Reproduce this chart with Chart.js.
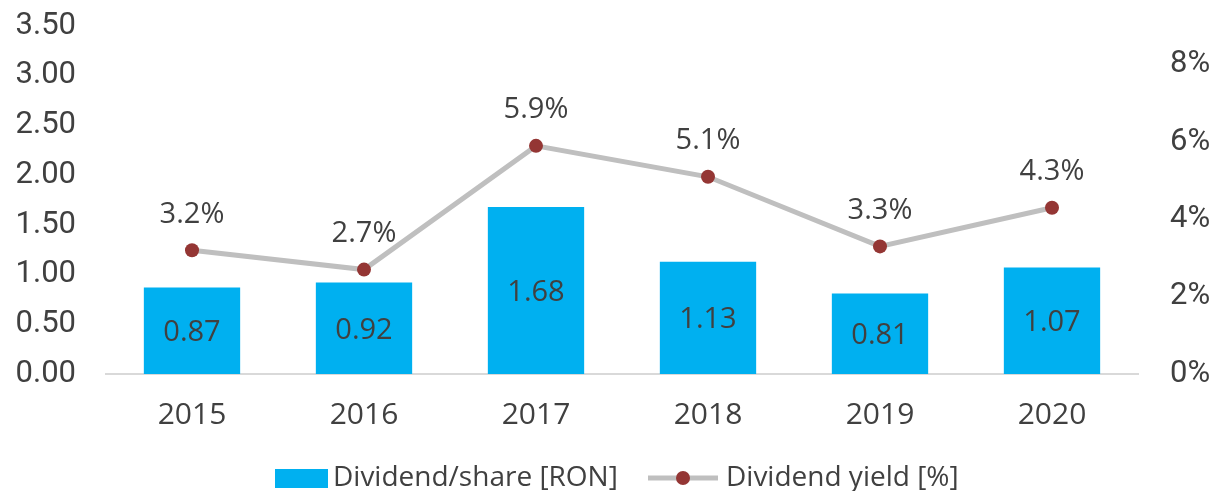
<!DOCTYPE html>
<html>
<head>
<meta charset="utf-8">
<script src="https://cdn.jsdelivr.net/npm/chart.js@4/dist/chart.umd.min.js"></script>
<style>
    html, body { margin: 0; padding: 0; background: #fff; }
    #wrap { width: 1219px; height: 491px; position: relative; }
</style>
</head>
<body>
<div id="wrap"><canvas id="divChart" width="1219" height="491"></canvas></div>
<script>
// Chart data
const years = ['2015', '2016', '2017', '2018', '2019', '2020'];
const dividendPerShare = [0.87, 0.92, 1.68, 1.13, 0.81, 1.07];
const dividendYield = [3.2, 2.7, 5.9, 5.1, 3.3, 4.3];
const leftTicks = [0, 0.5, 1, 1.5, 2, 2.5, 3, 3.5];
const rightTicks = [0, 2, 4, 6, 8];
const legendLabels = ['Dividend/share [RON]', 'Dividend yield [%]'];

const textColor = '#404040';
const barColor = '#00B0F0';
const lineColor = '#BFBFBF';
const dotColor = '#943634';
const plexLike = "'Open Sans', sans-serif";

// Draw value labels on bars and points
const valueLabels = {
    id: 'valueLabels',
    afterDatasetsDraw(chart) {
        const ctx = chart.ctx;
        ctx.save();
        ctx.fillStyle = textColor;
        ctx.font = "29px " + plexLike;
        ctx.textAlign = 'center';
        ctx.textBaseline = 'middle';

        // dataset 1 is the bars, dataset 0 the line
        const bars = chart.getDatasetMeta(1).data;
        bars.forEach((bar, i) => {
            const mid = (bar.y + bar.base) / 2;
            ctx.fillText(dividendPerShare[i].toFixed(2), bar.x, mid + 2);
        });

        const pts = chart.getDatasetMeta(0).data;
        pts.forEach((pt, i) => {
            ctx.fillText(dividendYield[i].toFixed(1) + '%', pt.x, pt.y - 36);
        });
        ctx.restore();
    }
};

// Legend at the bottom, drawn by hand to get the line+dot swatch
const bottomLegend = {
    id: 'bottomLegend',
    afterDraw(chart) {
        const ctx = chart.ctx;
        const y = 478;
        ctx.save();
        ctx.font = "28px " + plexLike;
        ctx.textBaseline = 'middle';
        ctx.textAlign = 'left';

        ctx.fillStyle = barColor;
        ctx.fillRect(275, y - 9, 53, 19);
        ctx.fillStyle = textColor;
        ctx.fillText(legendLabels[0], 333, y);

        ctx.strokeStyle = lineColor;
        ctx.lineWidth = 5;
        ctx.beginPath();
        ctx.moveTo(648, y);
        ctx.lineTo(718, y);
        ctx.stroke();
        ctx.fillStyle = dotColor;
        ctx.beginPath();
        ctx.arc(683, y, 7, 0, Math.PI * 2);
        ctx.fill();
        ctx.fillStyle = textColor;
        ctx.fillText(legendLabels[1], 726, y);
        ctx.restore();
    }
};

// y axes: fixed width, no extra room reserved above/below for tick labels
function fitY(width) {
    return function (axis) {
        axis.width = width;
        axis.paddingTop = 0;
        axis.paddingBottom = 0;
    };
}

const ctx = document.getElementById('divChart').getContext('2d');

new Chart(ctx, {
    data: {
        labels: years,
        datasets: [
            {
                type: 'line',
                label: legendLabels[1],
                data: dividendYield,
                yAxisID: 'yRight',
                borderColor: lineColor,
                borderWidth: 5,
                pointBackgroundColor: dotColor,
                pointBorderColor: dotColor,
                pointRadius: 7,
                pointBorderWidth: 0,
                tension: 0,
                order: 0
            },
            {
                type: 'bar',
                label: legendLabels[0],
                data: dividendPerShare,
                yAxisID: 'yLeft',
                backgroundColor: barColor,
                barPercentage: 0.56,
                categoryPercentage: 1,
                order: 1
            }
        ]
    },
    options: {
        responsive: false,
        animation: false,
        layout: { padding: { top: 26, left: 0, right: 0, bottom: 0 } },
        plugins: {
            legend: { display: false },
            tooltip: { enabled: false }
        },
        scales: {
            x: {
                grid: { display: false, drawTicks: false },
                border: { display: true, color: '#D9D9D9', width: 2 },
                ticks: {
                    color: textColor,
                    padding: 23,
                    font: { family: plexLike, size: 30 }
                },
                afterFit(axis) { axis.height = 117; }
            },
            yLeft: {
                position: 'left',
                min: 0,
                max: 3.5,
                grid: { display: false, drawTicks: false },
                border: { display: false },
                afterBuildTicks(axis) { axis.ticks = leftTicks.map(v => ({ value: v })); },
                ticks: {
                    color: textColor,
                    padding: 30,
                    font: { family: 'Roboto', size: 31 },
                    callback: v => v.toFixed(2)
                },
                afterFit: fitY(106)
            },
            yRight: {
                position: 'right',
                min: 0,
                max: 9,
                grid: { display: false, drawTicks: false },
                border: { display: false },
                afterBuildTicks(axis) { axis.ticks = rightTicks.map(v => ({ value: v })); },
                ticks: {
                    color: textColor,
                    padding: 32,
                    font: { family: 'Roboto', size: 31 },
                    callback: v => v + '%'
                },
                afterFit: fitY(81)
            }
        }
    },
    plugins: [valueLabels, bottomLegend]
});
</script>
</body>
</html>
